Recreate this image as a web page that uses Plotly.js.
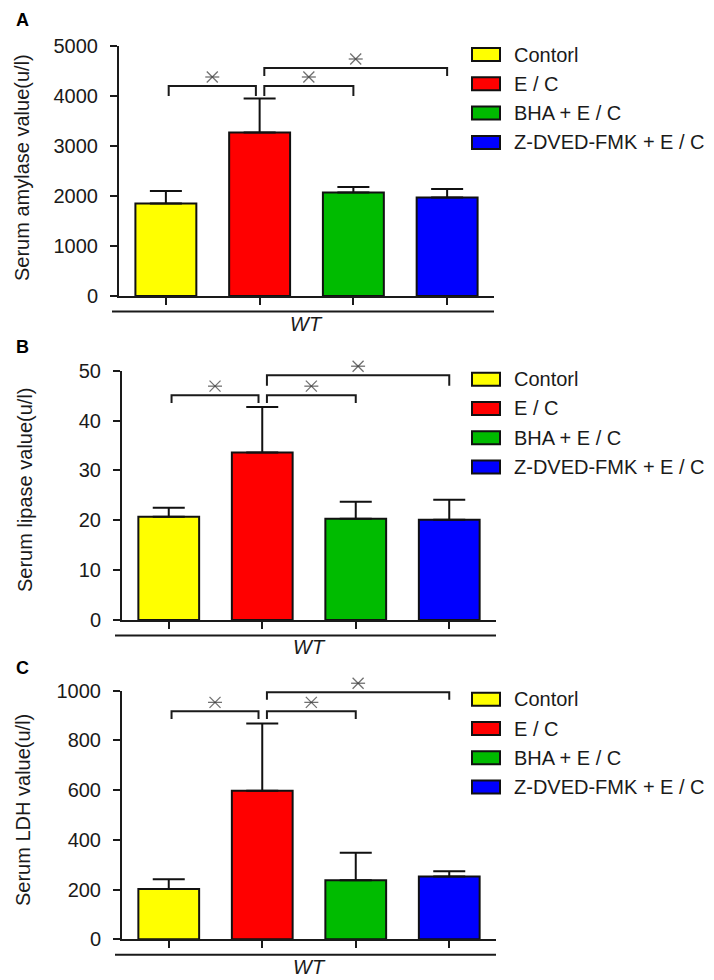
<!DOCTYPE html>
<html>
<head>
<meta charset="utf-8">
<script src="https://cdn.plot.ly/plotly-3.0.1.min.js"></script>
<style>html,body{margin:0;padding:0;background:#fff;}#chart{width:714px;height:980px;}</style>
</head>
<body>
<div id="chart"></div>
<script>
// ---- data ----
const groups = ['Contorl', 'E / C', 'BHA + E / C', 'Z-DVED-FMK + E / C'];
const barColors = ['#ffff00', '#ff0000', '#00bb00', '#0000ff'];

const amylaseMean = [1850, 3270, 2070, 1970];
const amylaseSem  = [250, 680, 110, 170];
const lipaseMean  = [20.7, 33.6, 20.3, 20.1];
const lipaseSem   = [1.8, 9.1, 3.4, 4.0];
const ldhMean     = [202, 598, 238, 253];
const ldhSem      = [40, 270, 110, 21];

const sigPairs = [[0, 1], [1, 2], [1, 3]];
const amylaseSigTop = [4200, 4200, 4560];
const amylaseSigLeg = [4000, 4000, 4400];
const lipaseSigTop  = [45.1, 45.1, 49.1];
const lipaseSigLeg  = [43.5, 43.5, 47];
const ldhSigTop     = [917, 917, 994];
const ldhSigLeg     = [886, 886, 964];

const yTitles = ['Serum amylase value(u/l)', 'Serum lipase value(u/l)', 'Serum LDH value(u/l)'];
const panelLabels = ['A', 'B', 'C'];
const groupLabel = 'WT';

// ---- layout constants ----
const W = 714, H = 980;
const FONT = 'Liberation Sans, Arial, sans-serif';
const INK = '#1a1a1a';
const EXTRA = 30; // px of headroom for the overlay subplot carrying asterisks
const panels = [
  {mean: amylaseMean, sem: amylaseSem, top: amylaseSigTop, leg: amylaseSigLeg, yMax: 5000, dtick: 1000,
   pxTop: 46, pxBot: 296, pxL: 119, pxR: 494, titleX: 22, titleY: 168, labY: 20},
  {mean: lipaseMean, sem: lipaseSem, top: lipaseSigTop, leg: lipaseSigLeg, yMax: 50, dtick: 10,
   pxTop: 370.7, pxBot: 620, pxL: 122, pxR: 496, titleX: 25, titleY: 490, labY: 347},
  {mean: ldhMean, sem: ldhSem, top: ldhSigTop, leg: ldhSigLeg, yMax: 1000, dtick: 200,
   pxTop: 690.7, pxBot: 939.3, pxL: 122, pxR: 496, titleX: 23, titleY: 810, labY: 668}
];
const px2x = p => p / W;
const px2y = p => 1 - p / H;

const traces = [];
const shapes = [];
const annotations = [];
const layout = {
  width: W, height: H,
  margin: {l: 0, r: 0, t: 0, b: 0},
  paper_bgcolor: '#fff', plot_bgcolor: 'rgba(0,0,0,0)',
  showlegend: false,
  font: {family: FONT, color: INK, size: 20}
};

panels.forEach((p, k) => {
  const s = k === 0 ? '' : String(k + 1);
  const xa = 'x' + s, ya = 'y' + s;
  const so = String(k + 4);
  const xo = 'x' + so, yo = 'y' + so;
  const idx = groups.map((g, i) => i);

  layout['xaxis' + s] = {
    domain: [px2x(p.pxL), px2x(p.pxR)], anchor: ya,
    range: [-0.5, 3.5], tickvals: idx, showticklabels: false,
    showline: true, linewidth: 2, linecolor: INK,
    ticks: 'outside', ticklen: 7, tickwidth: 2, tickcolor: INK,
    showgrid: false, zeroline: false, fixedrange: true
  };
  layout['yaxis' + s] = {
    domain: [px2y(p.pxBot), px2y(p.pxTop)], anchor: xa,
    range: [0, p.yMax], dtick: p.dtick, tick0: 0,
    showline: true, linewidth: 2, linecolor: INK,
    ticks: 'outside', ticklen: 7, tickwidth: 2, tickcolor: INK,
    ticklabelstandoff: 8,
    tickfont: {family: FONT, size: 20, color: INK},
    showgrid: false, zeroline: false, fixedrange: true
  };
  // invisible overlay subplot with the same scale but extra headroom (for asterisks above the axis top)
  const hPx = p.pxBot - p.pxTop;
  layout['xaxis' + so] = {domain: [px2x(p.pxL), px2x(p.pxR)], anchor: yo, range: [-0.5, 3.5], visible: false, fixedrange: true};
  layout['yaxis' + so] = {domain: [px2y(p.pxBot), px2y(p.pxTop - EXTRA)], anchor: xo,
    range: [0, p.yMax * (hPx + EXTRA) / hPx], visible: false, fixedrange: true};

  traces.push({
    type: 'bar', x: idx, y: p.mean, xaxis: xa, yaxis: ya,
    width: 0.65,
    marker: {color: barColors, line: {color: '#111', width: 2}},
    error_y: {type: 'data', symmetric: false, array: p.sem, arrayminus: p.sem.map(() => 0),
              color: '#111', thickness: 2, width: 16},
    hoverinfo: 'skip'
  });

  sigPairs.forEach((pr, j) => {
    const x1 = pr[0] + (pr[0] === 1 ? 0.05 : 0.03);
    const x2 = pr[1] - (pr[1] === 1 ? 0.04 : 0);
    traces.push({
      type: 'scatter', mode: 'lines', xaxis: xo, yaxis: yo, cliponaxis: false,
      x: [x1, x1, x2, x2], y: [p.leg[j], p.top[j], p.top[j], p.leg[j]],
      line: {color: INK, width: 2}, hoverinfo: 'skip'
    });
    const mx = (x1 + x2) / 2, my = p.top[j] + p.yMax * 0.036;
    traces.push({
      type: 'scatter', mode: 'markers', xaxis: xo, yaxis: yo, cliponaxis: false,
      x: [mx, mx], y: [my, my],
      marker: {symbol: ['x-thin-open', 'line-ew-open'], size: [11, 10], color: '#333',
               line: {color: '#333', width: 1.3}},
      hoverinfo: 'skip'
    });
  });

  // group bracket line below axis + label
  shapes.push({type: 'line', xref: xa + ' domain', yref: ya + ' domain',
    x0: -7 / (p.pxR - p.pxL), x1: 1.0, y0: -0.062, y1: -0.062,
    line: {color: INK, width: 2}});
  annotations.push({xref: xa + ' domain', yref: ya + ' domain', x: 0.5, y: -0.11,
    text: '<i>' + groupLabel + '</i>', showarrow: false, xanchor: 'center', yanchor: 'middle',
    font: {family: FONT, size: 20, color: INK}});

  // y title
  annotations.push({xref: 'paper', yref: 'paper', x: px2x(p.titleX), y: px2y(p.titleY),
    text: yTitles[k], textangle: -90, showarrow: false, xanchor: 'center', yanchor: 'middle',
    font: {family: FONT, size: 20, color: INK}});
  // panel label
  annotations.push({xref: 'paper', yref: 'paper', x: px2x(23), y: px2y(p.labY),
    text: '<b>' + panelLabels[k] + '</b>', showarrow: false, xanchor: 'center', yanchor: 'middle',
    font: {family: FONT, size: 18, color: '#000'}});

  // legend
  groups.forEach((g, i) => {
    const cy = p.pxTop + 8.5 + 29.3 * i;
    shapes.push({type: 'rect', xref: 'paper', yref: 'paper',
      x0: px2x(472), x1: px2x(500), y0: px2y(cy + 6.5), y1: px2y(cy - 6.5),
      fillcolor: barColors[i], line: {color: '#111', width: 2}});
    annotations.push({xref: 'paper', yref: 'paper', x: px2x(512), y: px2y(cy),
      text: g, showarrow: false, xanchor: 'left', yanchor: 'middle',
      font: {family: FONT, size: 20, color: INK}});
  });
});

layout.shapes = shapes;
layout.annotations = annotations;

Plotly.newPlot('chart', traces, layout, {staticPlot: true, displayModeBar: false});
</script>
</body>
</html>
